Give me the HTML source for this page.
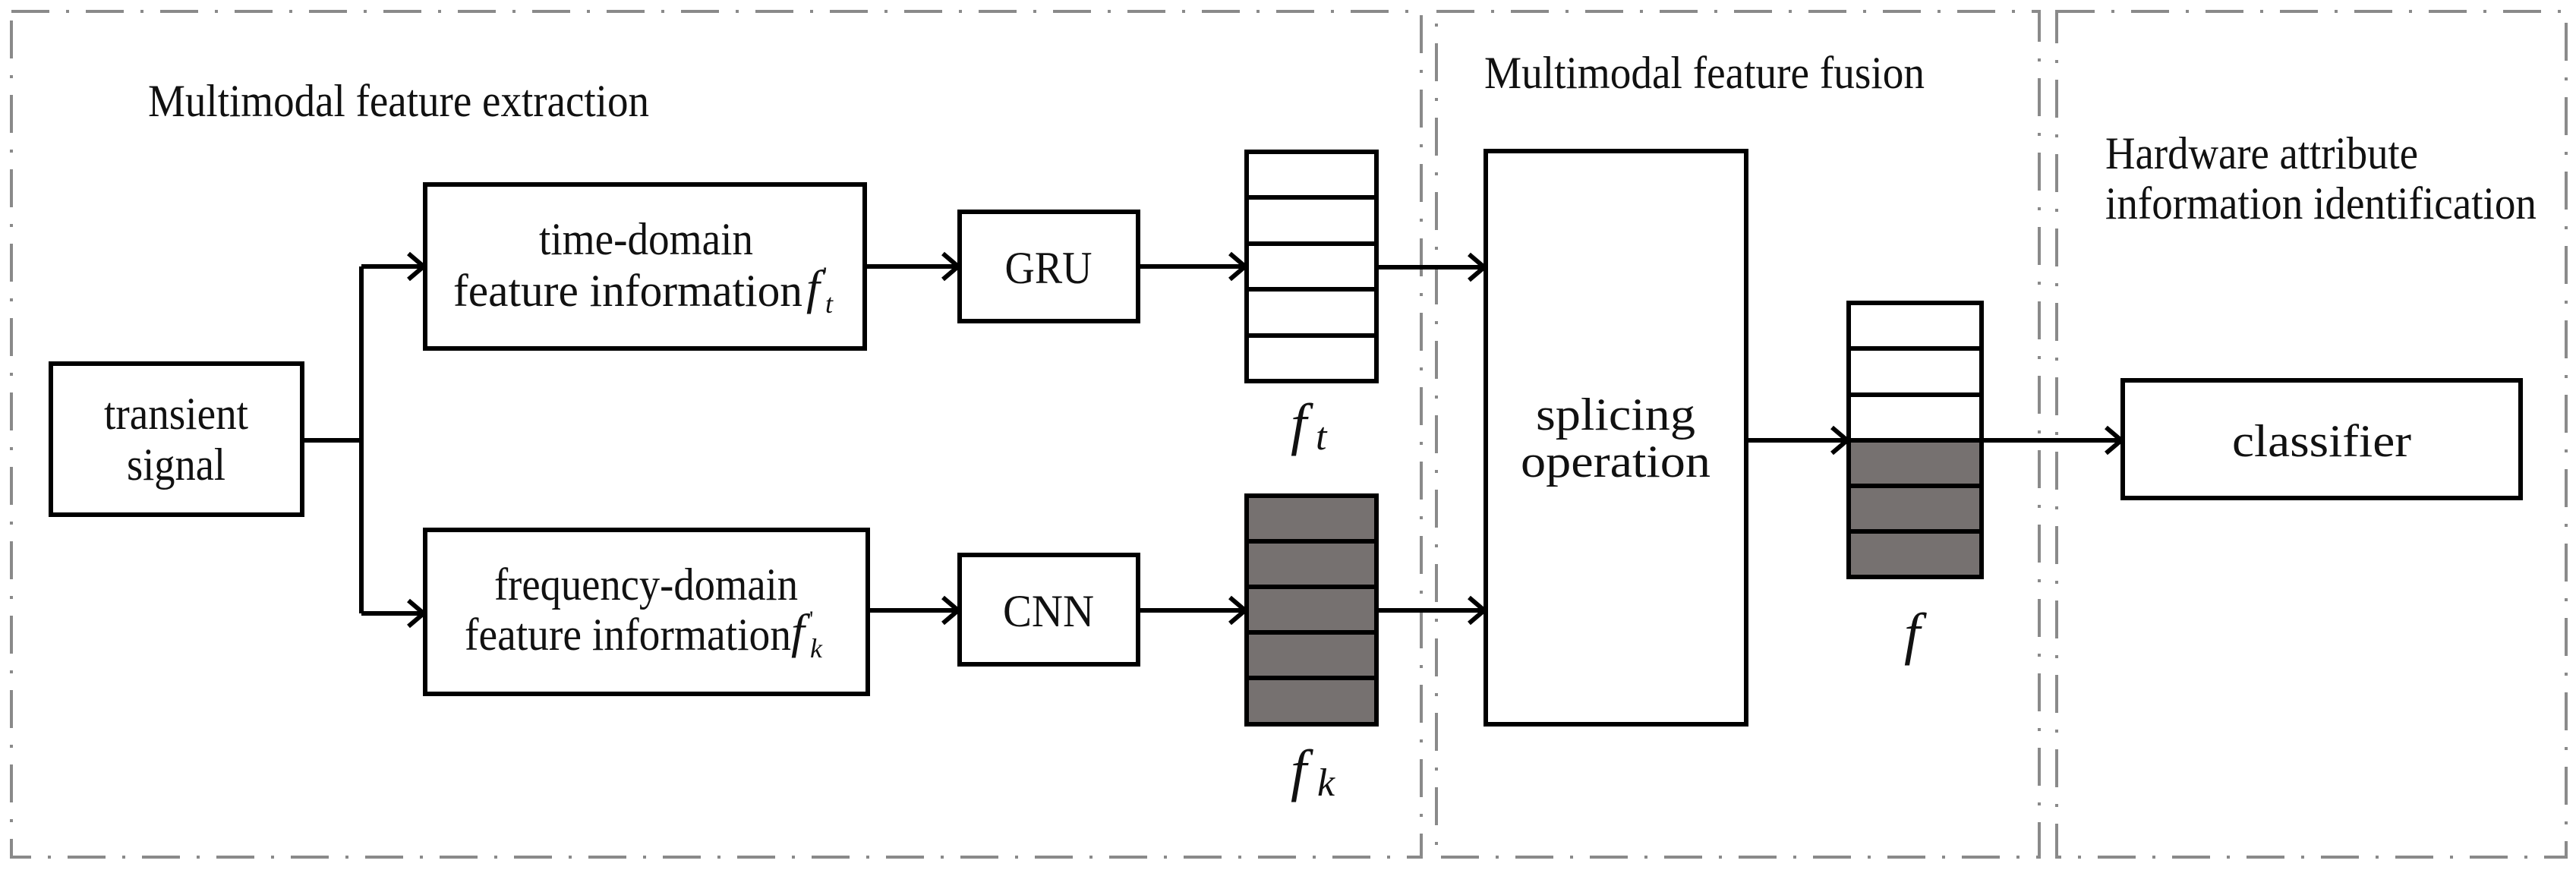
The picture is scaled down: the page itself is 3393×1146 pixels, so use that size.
<!DOCTYPE html>
<html><head><meta charset="utf-8"><style>
html,body{margin:0;padding:0;background:#fff;}
svg{display:block;}
text{font-family:"Liberation Serif",serif;fill:#111;}
</style></head><body>
<svg width="3393" height="1146" viewBox="0 0 3393 1146" xmlns="http://www.w3.org/2000/svg">
<g fill="none" stroke="#8a8a8a" stroke-width="4" stroke-dasharray="50 22 4 22">
<rect x="15" y="15" width="1857" height="1114"/>
<rect x="1892" y="15" width="794" height="1114"/>
<rect x="2709" y="15" width="671" height="1114"/>
</g>
<g fill="none" stroke="#000" stroke-width="6">
<rect x="67" y="479" width="331" height="199" fill="#fff"/>
<rect x="560" y="243" width="579" height="216" fill="#fff"/>
<rect x="560" y="698" width="583" height="216" fill="#fff"/>
<rect x="1264" y="279" width="235" height="144" fill="#fff"/>
<rect x="1264" y="731" width="235" height="144" fill="#fff"/>
<rect x="1957" y="199" width="343" height="755" fill="#fff"/>
<rect x="2796" y="501" width="524" height="155" fill="#fff"/>
<rect x="1642" y="200" width="171" height="302" fill="#fff"/>
<path d="M1642 260H1813M1642 321H1813M1642 381H1813M1642 442H1813"/>
<rect x="1642" y="653" width="171" height="301" fill="#767170"/>
<path d="M1642 713H1813M1642 773H1813M1642 833H1813M1642 893H1813"/>
<rect x="2435" y="399" width="175" height="361" fill="#fff"/>
<rect x="2435" y="580" width="175" height="180" fill="#767170"/>
<path d="M2435 459H2610M2435 520H2610M2435 640H2610M2435 700H2610"/>
<path d="M398 580H476M476 351V808M476 351H558M476 808H558"/>
<path d="M1139 351H1262M1143 804H1262M1499 351H1640M1499 804H1640M1813 352H1955M1813 804H1955M2300 580H2433M2610 580H2794"/>
<path d="M538 334L558 351L538 368M538 791L558 808L538 825M1242 334L1262 351L1242 368M1242 787L1262 804L1242 821M1620 334L1640 351L1620 368M1620 787L1640 804L1620 821M1935 335L1955 352L1935 369M1935 787L1955 804L1935 821M2413 563L2433 580L2413 597M2774 563L2794 580L2774 597"/>
</g>
<g font-size="60">
<text x="195" y="153" textLength="660" lengthAdjust="spacingAndGlyphs">Multimodal feature extraction</text>
<text x="1955" y="116" textLength="580" lengthAdjust="spacingAndGlyphs">Multimodal feature fusion</text>
<text x="2773" y="222" textLength="412" lengthAdjust="spacingAndGlyphs">Hardware attribute</text>
<text x="2773" y="288" textLength="568" lengthAdjust="spacingAndGlyphs">information identification</text>
<text x="232" y="565" text-anchor="middle" textLength="190" lengthAdjust="spacingAndGlyphs">transient</text>
<text x="232" y="632" text-anchor="middle" textLength="130" lengthAdjust="spacingAndGlyphs">signal</text>
<text x="851" y="335" text-anchor="middle" textLength="282" lengthAdjust="spacingAndGlyphs">time-domain</text>
<text x="597" y="403" textLength="460" lengthAdjust="spacingAndGlyphs">feature information</text>
<text x="1062" y="400" font-style="italic" font-size="64">f</text>
<text x="1084" y="372" font-size="30">'</text>
<text x="1087" y="412" font-style="italic" font-size="36">t</text>
<text x="851" y="790" text-anchor="middle" textLength="400" lengthAdjust="spacingAndGlyphs">frequency-domain</text>
<text x="612" y="856" textLength="430" lengthAdjust="spacingAndGlyphs">feature information</text>
<text x="1042" y="853" font-style="italic" font-size="64">f</text>
<text x="1066" y="825" font-size="30">'</text>
<text x="1067" y="866" font-style="italic" font-size="36">k</text>
<text x="1381" y="373" text-anchor="middle" textLength="115" lengthAdjust="spacingAndGlyphs">GRU</text>
<text x="1381" y="825" text-anchor="middle" textLength="120" lengthAdjust="spacingAndGlyphs">CNN</text>
<text x="2128" y="566" text-anchor="middle" textLength="210" lengthAdjust="spacingAndGlyphs">splicing</text>
<text x="2128" y="628" text-anchor="middle" textLength="250" lengthAdjust="spacingAndGlyphs">operation</text>
<text x="3058" y="601" text-anchor="middle" textLength="236" lengthAdjust="spacingAndGlyphs">classifier</text>
</g>
<g font-style="italic">
<text x="1700" y="584" font-size="76">f</text>
<text x="1733" y="592" font-size="52">t</text>
<text x="1700" y="1040" font-size="76">f</text>
<text x="1735" y="1048" font-size="52">k</text>
<text x="2508" y="860" font-size="76">f</text>
</g>
</svg>
</body></html>
